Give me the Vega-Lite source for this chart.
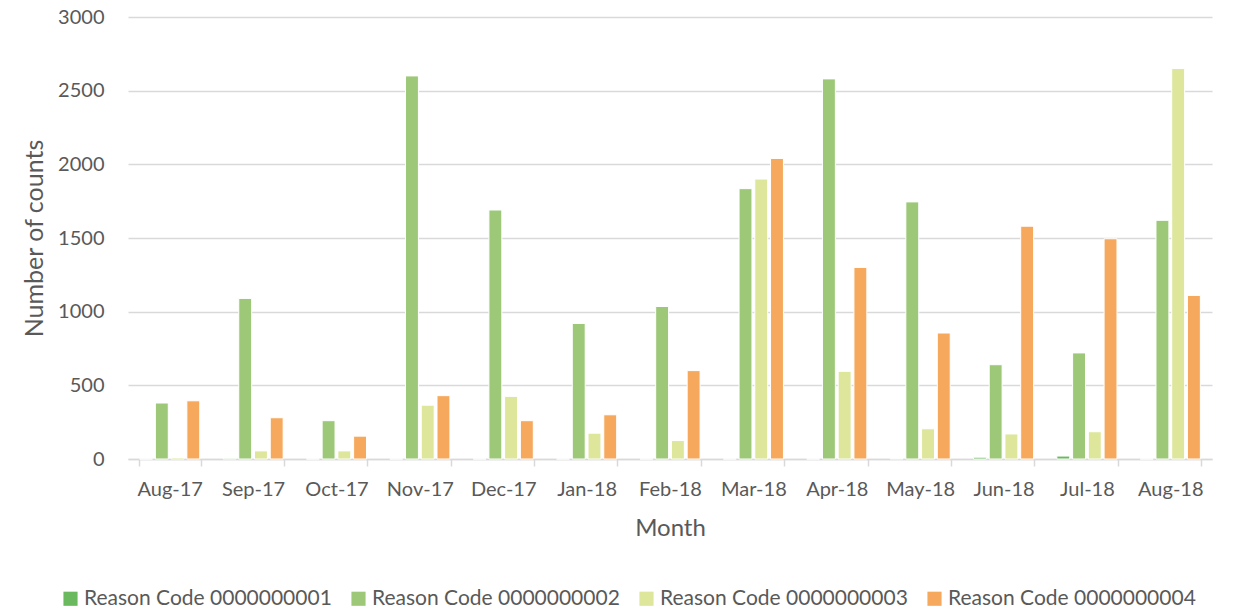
{
  "$schema": "https://vega.github.io/schema/vega-lite/v6.json",
  "autosize": "none",
  "width": 1084,
  "height": 442,
  "padding": {"left": 128, "top": 17, "right": 44, "bottom": 152},
  "background": "white",
  "config": {
    "font": "Lato",
    "view": {"stroke": null},
    "axis": {"labelColor": "#595959", "titleColor": "#595959", "labelFont": "Lato", "titleFont": "Lato", "titleFontWeight": "normal"},
    "legend": {"labelColor": "#595959", "labelFont": "Lato"}
  },
  "data": {
    "values": [
      {"month": "Aug-17", "reason": "Reason Code 0000000001", "count": 0},
      {"month": "Aug-17", "reason": "Reason Code 0000000002", "count": 380},
      {"month": "Aug-17", "reason": "Reason Code 0000000003", "count": 10},
      {"month": "Aug-17", "reason": "Reason Code 0000000004", "count": 395},
      {"month": "Sep-17", "reason": "Reason Code 0000000001", "count": 5},
      {"month": "Sep-17", "reason": "Reason Code 0000000002", "count": 1090},
      {"month": "Sep-17", "reason": "Reason Code 0000000003", "count": 55},
      {"month": "Sep-17", "reason": "Reason Code 0000000004", "count": 280},
      {"month": "Oct-17", "reason": "Reason Code 0000000001", "count": 0},
      {"month": "Oct-17", "reason": "Reason Code 0000000002", "count": 260},
      {"month": "Oct-17", "reason": "Reason Code 0000000003", "count": 55},
      {"month": "Oct-17", "reason": "Reason Code 0000000004", "count": 155},
      {"month": "Nov-17", "reason": "Reason Code 0000000001", "count": 0},
      {"month": "Nov-17", "reason": "Reason Code 0000000002", "count": 2600},
      {"month": "Nov-17", "reason": "Reason Code 0000000003", "count": 365},
      {"month": "Nov-17", "reason": "Reason Code 0000000004", "count": 430},
      {"month": "Dec-17", "reason": "Reason Code 0000000001", "count": 0},
      {"month": "Dec-17", "reason": "Reason Code 0000000002", "count": 1690},
      {"month": "Dec-17", "reason": "Reason Code 0000000003", "count": 425},
      {"month": "Dec-17", "reason": "Reason Code 0000000004", "count": 260},
      {"month": "Jan-18", "reason": "Reason Code 0000000001", "count": 0},
      {"month": "Jan-18", "reason": "Reason Code 0000000002", "count": 920},
      {"month": "Jan-18", "reason": "Reason Code 0000000003", "count": 175},
      {"month": "Jan-18", "reason": "Reason Code 0000000004", "count": 300},
      {"month": "Feb-18", "reason": "Reason Code 0000000001", "count": 0},
      {"month": "Feb-18", "reason": "Reason Code 0000000002", "count": 1035},
      {"month": "Feb-18", "reason": "Reason Code 0000000003", "count": 125},
      {"month": "Feb-18", "reason": "Reason Code 0000000004", "count": 600},
      {"month": "Mar-18", "reason": "Reason Code 0000000001", "count": 0},
      {"month": "Mar-18", "reason": "Reason Code 0000000002", "count": 1835},
      {"month": "Mar-18", "reason": "Reason Code 0000000003", "count": 1900},
      {"month": "Mar-18", "reason": "Reason Code 0000000004", "count": 2040},
      {"month": "Apr-18", "reason": "Reason Code 0000000001", "count": 0},
      {"month": "Apr-18", "reason": "Reason Code 0000000002", "count": 2580},
      {"month": "Apr-18", "reason": "Reason Code 0000000003", "count": 595},
      {"month": "Apr-18", "reason": "Reason Code 0000000004", "count": 1300},
      {"month": "May-18", "reason": "Reason Code 0000000001", "count": 4},
      {"month": "May-18", "reason": "Reason Code 0000000002", "count": 1745},
      {"month": "May-18", "reason": "Reason Code 0000000003", "count": 205},
      {"month": "May-18", "reason": "Reason Code 0000000004", "count": 855},
      {"month": "Jun-18", "reason": "Reason Code 0000000001", "count": 12},
      {"month": "Jun-18", "reason": "Reason Code 0000000002", "count": 640},
      {"month": "Jun-18", "reason": "Reason Code 0000000003", "count": 170},
      {"month": "Jun-18", "reason": "Reason Code 0000000004", "count": 1580},
      {"month": "Jul-18", "reason": "Reason Code 0000000001", "count": 20},
      {"month": "Jul-18", "reason": "Reason Code 0000000002", "count": 720},
      {"month": "Jul-18", "reason": "Reason Code 0000000003", "count": 185},
      {"month": "Jul-18", "reason": "Reason Code 0000000004", "count": 1495},
      {"month": "Aug-18", "reason": "Reason Code 0000000001", "count": 0},
      {"month": "Aug-18", "reason": "Reason Code 0000000002", "count": 1620},
      {"month": "Aug-18", "reason": "Reason Code 0000000003", "count": 2650},
      {"month": "Aug-18", "reason": "Reason Code 0000000004", "count": 1110}
    ]
  },
  "mark": {"type": "bar", "stroke": "white", "strokeWidth": 1},
  "encoding": {
    "x": {
      "field": "month", "type": "nominal", "sort": null,
      "scale": {"paddingInner": 0.26, "paddingOuter": 0.13},
      "axis": {
        "title": "Month", "titleFontSize": 24, "titlePadding": 17,
        "labelAngle": 0, "labelFontSize": 20, "labelPadding": 13,
        "tickBand": "extent", "tickSize": 7, "tickColor": "#d9d9d9", "tickWidth": 1.5,
        "domainColor": "#d9d9d9", "domainWidth": 1.5, "grid": false
      }
    },
    "xOffset": {"field": "reason", "type": "nominal", "scale": {"paddingInner": 0.18, "paddingOuter": 0.05}},
    "y": {
      "field": "count", "type": "quantitative",
      "scale": {"domain": [0, 3000], "nice": false},
      "axis": {
        "title": "Number of counts", "titleFontSize": 25, "titlePadding": 10,
        "labelFontSize": 20, "labelPadding": 24, "format": "d", "values": [0, 500, 1000, 1500, 2000, 2500, 3000],
        "ticks": false, "domain": false, "gridColor": "#d9d9d9", "gridWidth": 1.5
      }
    },
    "color": {
      "field": "reason", "type": "nominal", "title": null,
      "scale": {"range": ["#6ab95f", "#9dc878", "#dde69a", "#f6a95c"]},
      "legend": {
        "orient": "none", "direction": "horizontal", "legendX": -68, "legendY": 571,
        "symbolType": "square", "symbolSize": 200, "symbolStrokeWidth": 0,
        "labelFontSize": 21, "labelOffset": 3, "columnPadding": 16, "labelLimit": 400
      }
    }
  }
}
